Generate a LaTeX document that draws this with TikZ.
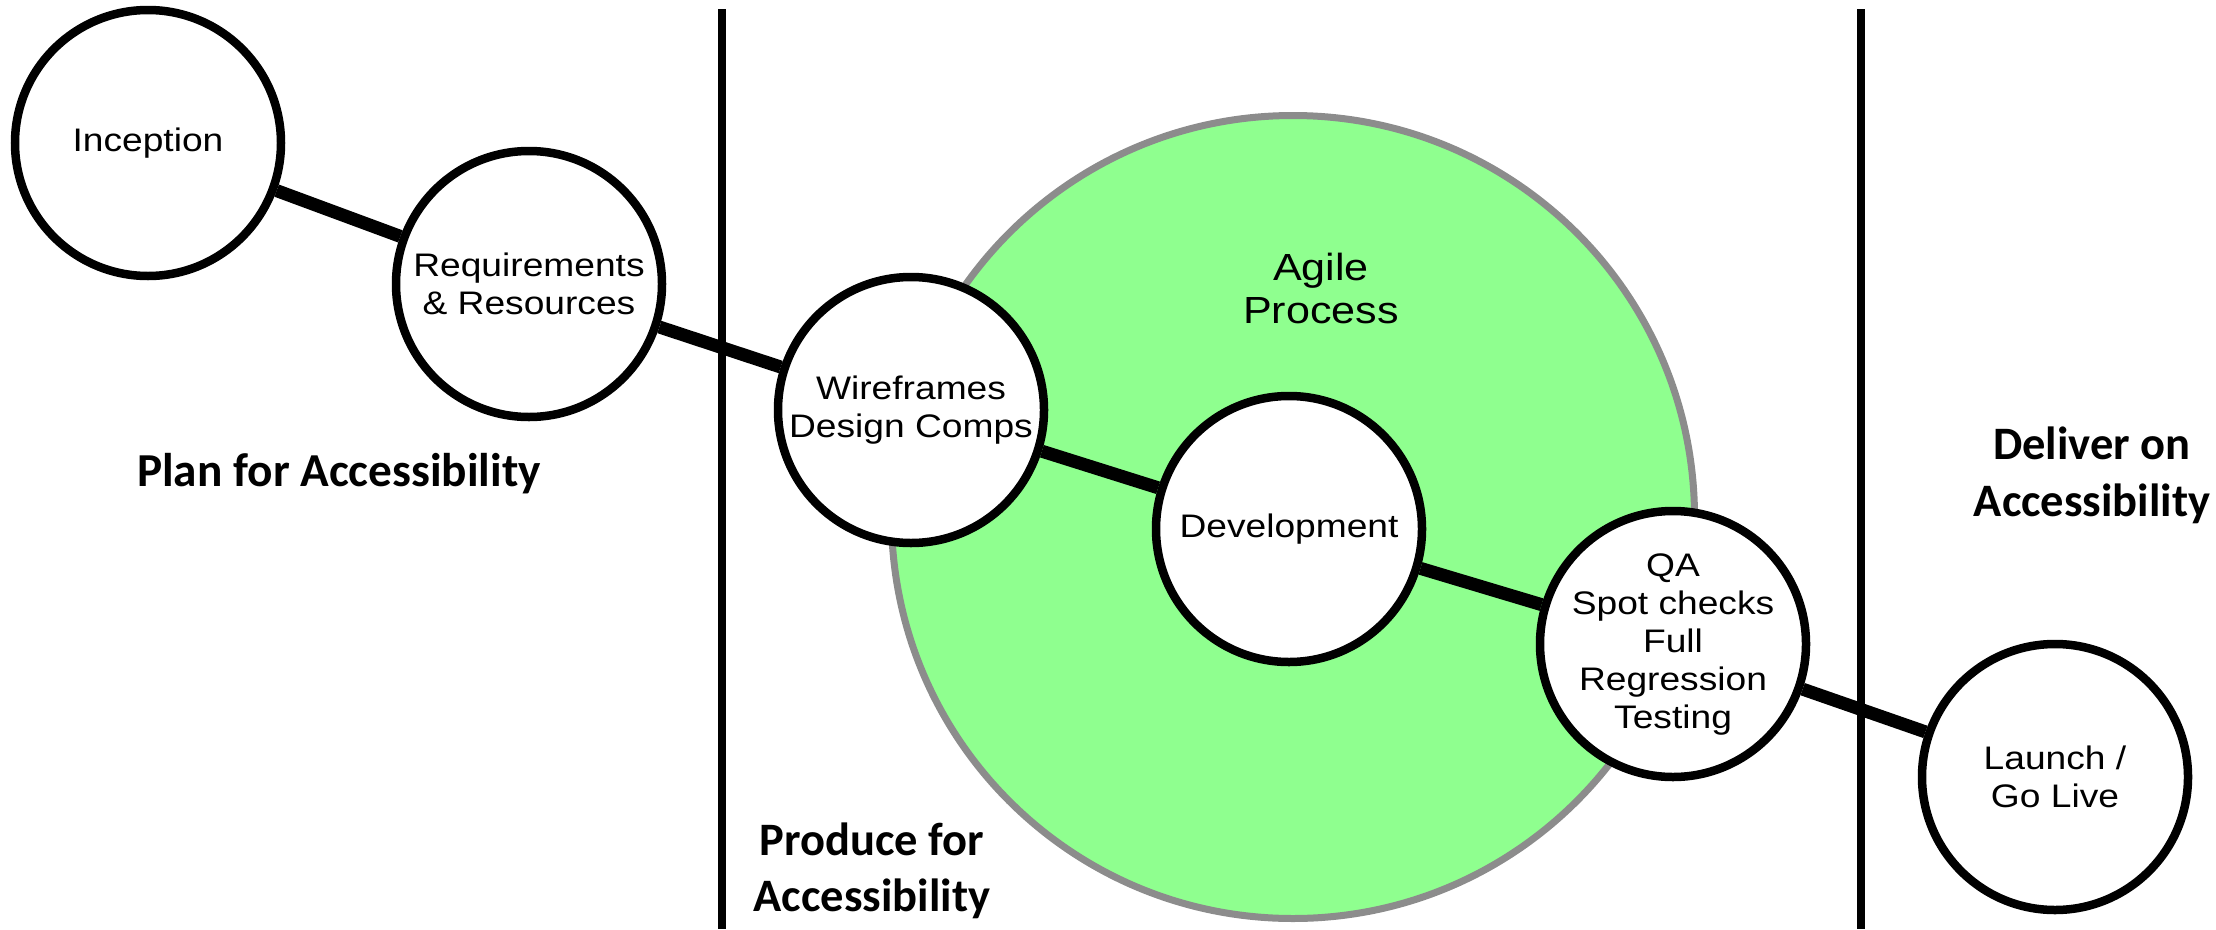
\documentclass[tikz,border=0pt]{standalone}
\usepackage{fontspec}
\setmainfont{Liberation Sans}[FakeStretch=1.14]
\newfontfamily\phasefont{Carlito}
\definecolor{agilegreen}{RGB}{143,255,143}
\definecolor{agilegray}{RGB}{140,140,140}
\begin{document}
\begin{tikzpicture}[x=1pt,y=-1pt,
  stage/.style={circle, draw=black, line width=8.5pt, fill=white, minimum size=266pt, inner sep=0pt},
  stagetxt/.style={font=\fontsize{32.6}{38}\selectfont, align=center, inner sep=0pt},
  agiletxt/.style={font=\fontsize{37.8}{43}\selectfont, align=center, inner sep=0pt},
  conn/.style={line width=13pt},
  divider/.style={line width=7.5pt},
  phase/.style={font=\phasefont\bfseries\fontsize{46.5}{56.5}\selectfont, align=center, inner sep=0pt},
  agilecircle/.style={circle, draw=agilegray, line width=7pt, fill=agilegreen, minimum size=803pt, inner sep=0pt}]
\useasboundingbox (0,0) rectangle (2216,929);

% agile process region
\node[agilecircle] (agile) at (1293,517) {};
\node[agiletxt] (agilelbl) at (1321,288) {Agile\\Process};

% phase dividers
\coordinate (d1top) at (722,9);
\coordinate (d1bot) at (722,929);
\coordinate (d2top) at (1861,9);
\coordinate (d2bot) at (1861,929);
\draw[divider] (d1top) -- (d1bot);
\draw[divider] (d2top) -- (d2bot);

% stages
\node[stage, label={[stagetxt]center:{Inception}}] (inc) at (148,143) {};
\node[stage, label={[stagetxt]center:{Requirements\\\& Resources}}] (req) at (529,284) {};
\node[stage, label={[stagetxt]center:{Wireframes\\Design Comps}}] (wire) at (911,410) {};
\node[stage, label={[stagetxt]center:{Development}}] (dev) at (1289,529) {};
\node[stage, label={[stagetxt]center:{QA\\Spot checks\\Full\\Regression\\Testing}}] (qa) at (1673,644) {};
\node[stage, label={[stagetxt]center:{Launch /\\Go Live}}] (launch) at (2055,777) {};

% connectors
\draw[conn] (inc) -- (req);
\draw[conn] (req) -- (wire);
\draw[conn] (wire) -- (dev);
\draw[conn] (dev) -- (qa);
\draw[conn] (qa) -- (launch);

% phase labels
\node[phase, font=\phasefont\bfseries\fontsize{47.3}{56.5}\selectfont] (plan) at (339,474) {Plan for Accessibility};
\node[phase] (produce) at (872,871) {Produce for\\Accessibility};
\node[phase] (deliver) at (2092,475.5) {Deliver on\\Accessibility};
\end{tikzpicture}
\end{document}
